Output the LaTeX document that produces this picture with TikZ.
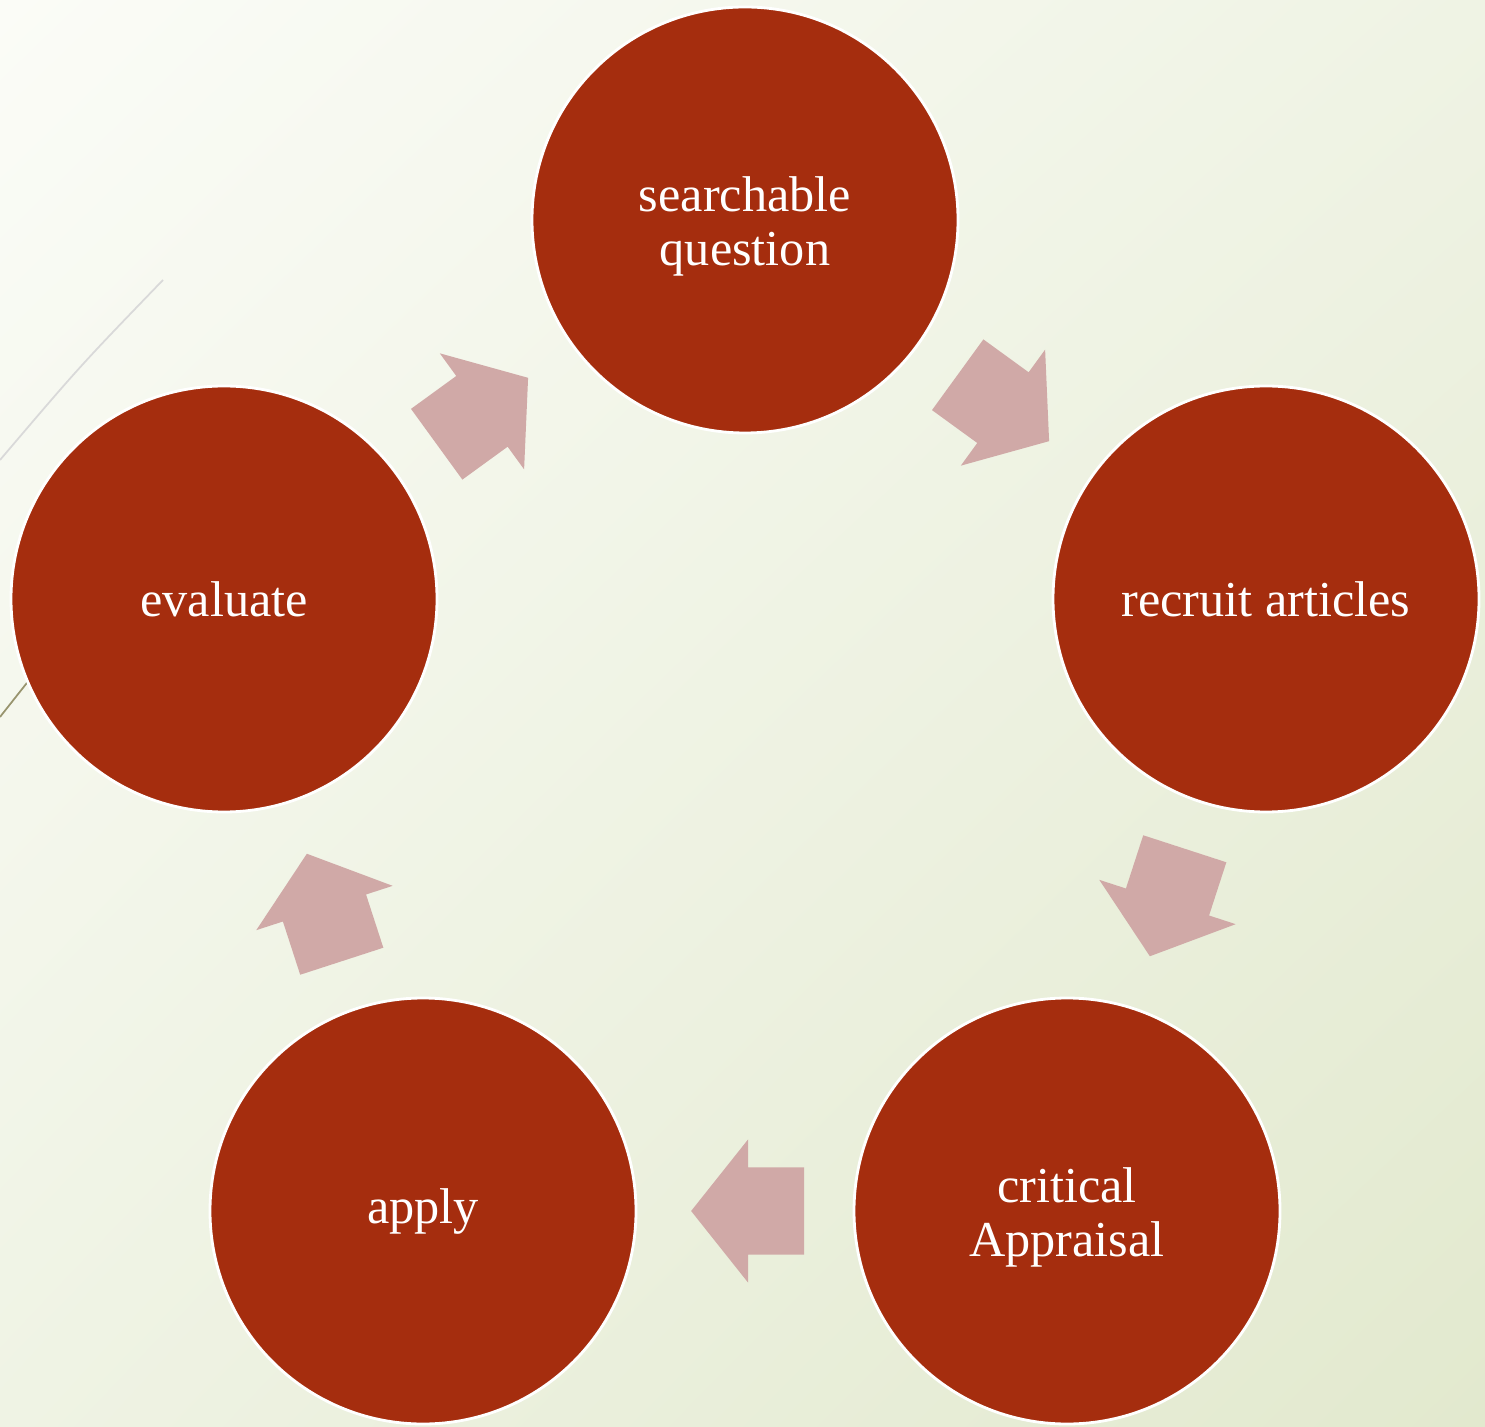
\documentclass[tikz,border=0pt]{standalone}
\usepackage{fontspec}
\setmainfont{Liberation Serif}
\usetikzlibrary{positioning,calc,shapes.arrows,shadings}
\definecolor{stepred}{RGB}{165,45,14}
\definecolor{arrowpink}{RGB}{208,169,167}
\definecolor{bglight}{RGB}{251,252,247}
\definecolor{bgmid}{RGB}{239,243,228}
\definecolor{bgdark}{RGB}{226,233,206}
\tikzset{
  stepnode/.style={circle, draw=white, line width=0.8pt, fill=stepred, minimum size=4.26cm, inner sep=0pt, text=white, align=center, font=\fontsize{14.3}{15.6}\selectfont},
  twolines/.style={text height=29.2pt},
  cyclearrow/.style={single arrow, fill=arrowpink, draw=none, minimum height=1.13cm, inner xsep=0pt, inner ysep=0.43cm, single arrow head extend=0.28cm, single arrow tip angle=103, rotate=#1, xshift=-0.2cm},
  edgeline/.style={line width=0.5pt}
}
\begin{document}
\begin{tikzpicture}
  \shade[upper left=bglight, upper right=bgmid, lower left=bgmid, lower right=bgdark] (0,0) rectangle (14.85,14.26);
  \useasboundingbox (0,0) rectangle (14.85,14.26);
  % thin lines at the left edge
  \coordinate (l1) at (1.63,11.46);
  \coordinate (l2) at (0,9.66);
  \coordinate (l3) at (0,7.09);
  \coordinate (l4) at (0.45,7.66);
  \draw[edgeline, gray!30] (l1) .. controls (0.8,10.6) .. (l2);
  \draw[edgeline, black!55!olive!60] (l3) -- (l4);
  % the five steps
  \node[stepnode, twolines] (q) at (7.45,12.06) {searchable\\question};
  \node[stepnode] (r) at (12.66,8.27) {recruit articles};
  \node[stepnode, twolines] (c) at (10.67,2.15) {critical\\Appraisal};
  \node[stepnode] (a) at (4.23,2.15) {apply};
  \node[stepnode] (e) at (2.24,8.27) {evaluate};
  % arrows between them
  \node[cyclearrow=-36] (qr) at ($(q)!0.5!(r)$) {};
  \node[cyclearrow=-108] (rc) at ($(r)!0.5!(c)$) {};
  \node[cyclearrow=180] (ca) at ($(c)!0.5!(a)$) {};
  \node[cyclearrow=108] (ae) at ($(a)!0.5!(e)$) {};
  \node[cyclearrow=36] (eq) at ($(e)!0.5!(q)$) {};
\end{tikzpicture}
\end{document}
